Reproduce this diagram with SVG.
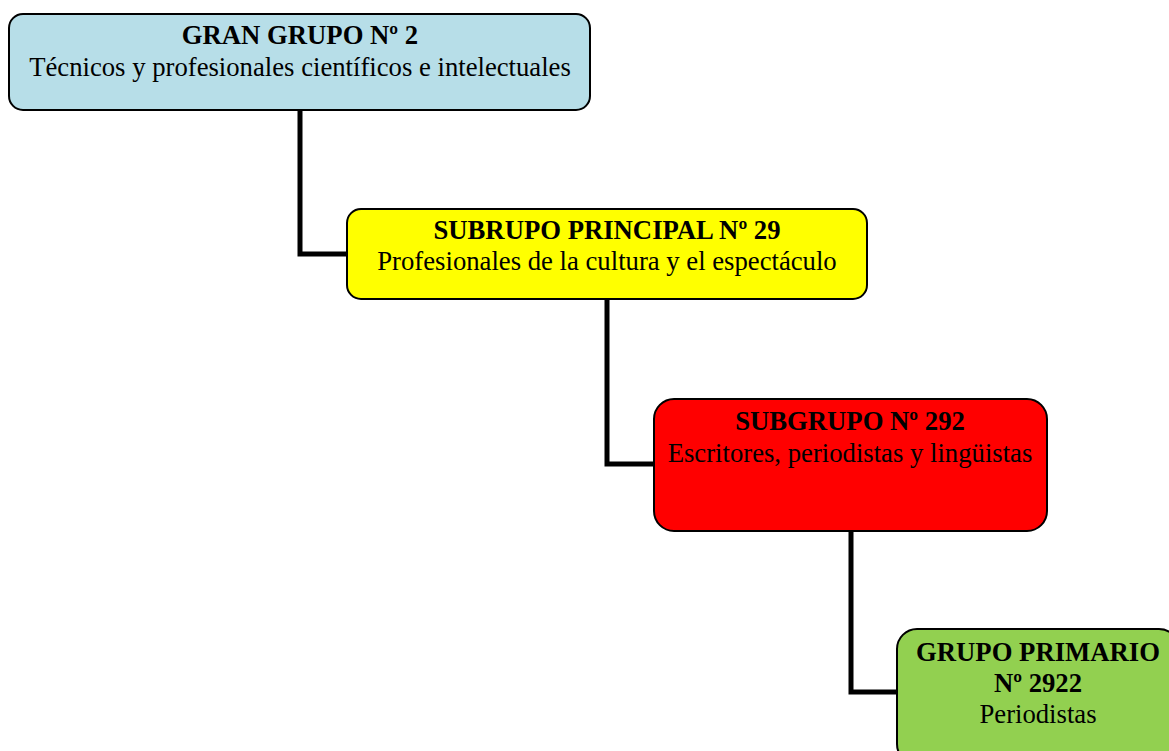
<svg xmlns="http://www.w3.org/2000/svg" width="1169" height="751" viewBox="0 0 1169 751">
<style>
.box{stroke:#000;stroke-width:2}
.t{font-family:"Liberation Serif","Times New Roman",serif;font-size:26.7px;fill:#000;text-anchor:middle}
.b{font-weight:bold}
.conn{fill:none;stroke:#000;stroke-width:5;stroke-linejoin:miter}
</style>
<rect width="1169" height="751" fill="#fff"/>
<g id="connectors">
<path class="conn" d="M300,110 V254 H347"/>
<path class="conn" d="M607,299 V464 H654"/>
<path class="conn" d="M851,531 V692 H897"/>
</g>
<g id="gran-grupo">
<rect class="box" x="9" y="14" width="581" height="96" rx="14" fill="#B7DEE8"/>
<text class="t b" x="300" y="44">GRAN GRUPO Nº 2</text>
<text class="t" x="300" y="76">Técnicos y profesionales científicos e intelectuales</text>
</g>
<g id="subgrupo-principal">
<rect class="box" x="347" y="209" width="520" height="90" rx="14" fill="#FFFF00"/>
<text class="t b" x="607" y="239">SUBRUPO PRINCIPAL Nº 29</text>
<text class="t" x="607" y="270">Profesionales de la cultura y el espectáculo</text>
</g>
<g id="subgrupo">
<rect class="box" x="654" y="399" width="393" height="132" rx="20" fill="#FF0000"/>
<text class="t b" x="850" y="430">SUBGRUPO Nº 292</text>
<text class="t" x="850" y="462">Escritores, periodistas y lingüistas</text>
</g>
<g id="grupo-primario">
<rect class="box" x="897" y="629" width="282" height="135" rx="20" fill="#92D050"/>
<text class="t b" x="1038" y="661">GRUPO PRIMARIO</text>
<text class="t b" x="1038" y="692">Nº 2922</text>
<text class="t" x="1038" y="723">Periodistas</text>
</g>
</svg>
